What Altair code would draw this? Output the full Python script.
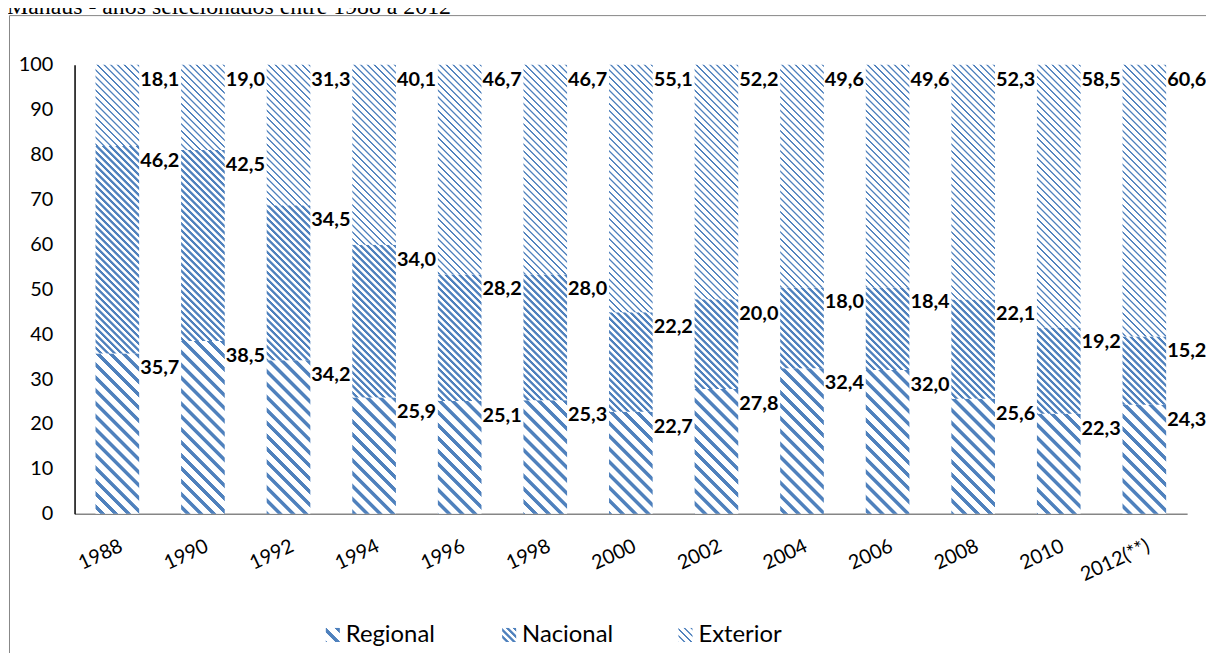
import altair as alt
import numpy as np

# ---------------- data ----------------
TITLE = "Manaus - anos selecionados entre 1988 a 2012"
years = ["1988", "1990", "1992", "1994", "1996", "1998", "2000",
         "2002", "2004", "2006", "2008", "2010", "2012(**)"]
series = ["Regional", "Nacional", "Exterior"]
regional = [35.7, 38.5, 34.2, 25.9, 25.1, 25.3, 22.7, 27.8, 32.4, 32.0, 25.6, 22.3, 24.3]
nacional = [46.2, 42.5, 34.5, 34.0, 28.2, 28.0, 22.2, 20.0, 18.0, 18.4, 22.1, 19.2, 15.2]
exterior = [18.1, 19.0, 31.3, 40.1, 46.7, 46.7, 55.1, 52.2, 49.6, 49.6, 52.3, 58.5, 60.6]
y_ticks = list(range(0, 101, 10))

# ---------------- layout / style ----------------
PLOT_W, PLOT_H = 1120, 452
PAD_INNER, PAD_OUTER = 0.49, 0.245
STEP = PLOT_W / (len(years) - PAD_INNER + 2 * PAD_OUTER)
BAR_W = STEP * (1 - PAD_INNER)
BLUE = "#4F81BD"
# (period, stripe width) of the diagonal hatch, in px
HATCH = {"Regional": (13.0, 5.0), "Nacional": (6.8, 3.3), "Exterior": (6.8, 1.9)}
FONT = "Lato"


def hatch(W, H, period, bw, color=BLUE, bg="#FFFFFF", soft=0.9):
    """Linear gradient that draws '\\' stripes at 45 deg on a W x H box."""
    L = W + H
    k = L / (W * W + H * H)
    stops = []

    def add(s, c):
        o = min(max(s / L, 0.0), 1.0)
        stops.append({"offset": round(o, 5), "color": c})

    add(0, bg)
    n = int(np.ceil(L / period)) + 1
    for i in range(n):
        s0 = i * period
        add(s0, bg)
        add(s0 + soft, color)
        add(s0 + bw, color)
        add(s0 + bw + soft, bg)
    add(L, bg)
    return {"gradient": "linear", "x1": 1.0, "y1": 0.0,
            "x2": round(1 - W * k, 5), "y2": round(H * k, 5), "stops": stops}


def fmt(v):
    return f"{v:.1f}".replace(".", ",")


rows = []
for i, yr in enumerate(years):
    base = 0.0
    for s, vals in zip(series, [regional, nacional, exterior]):
        v = vals[i]
        top = min(base + v, 100.0)
        h = (top - base) / 100.0 * PLOT_H
        p, bw = HATCH[s]
        rows.append({"year": yr, "series": s, "value": v, "y0": base, "y1": top,
                     "label": fmt(v), "grad": hatch(BAR_W, h, p, bw)})
        base = top

legend_rows = [{"series": s, "grad": hatch(14, 14, *HATCH[s])} for s in series]

data = alt.Data(values=rows)
ldata = alt.Data(values=legend_rows)
one = alt.Data(values=[{"t": TITLE}])

x_enc = alt.X("year:N", sort=years,
              scale=alt.Scale(paddingInner=PAD_INNER, paddingOuter=PAD_OUTER),
              axis=alt.Axis(title=None, labelAngle=-25, labelAlign="right",
                            labelBaseline="top", labelFont=FONT, labelFontSize=20,
                            labelColor="#000000", ticks=False, tickSize=0,
                            labelPadding=22, domainColor="#868686", domainWidth=1.5))
y_scale = alt.Scale(domain=[0, 100], nice=False)

bars = alt.Chart(data).mark_bar(strokeWidth=0).encode(
    x=x_enc,
    y=alt.Y("y0:Q", scale=y_scale,
            axis=alt.Axis(title=None, values=y_ticks, grid=False, ticks=False,
                          tickSize=0, labelPadding=22, labelFont=FONT,
                          labelFontSize=20, labelColor="#000000",
                          domainColor="#000000", domainWidth=1.5)),
    y2="y1:Q",
    fill=alt.Fill("grad:N", scale=None),
)

labels = alt.Chart(data).mark_text(
    align="left", baseline="top", dx=BAR_W / 2 + 1, dy=5,
    font=FONT, fontSize=20, fontWeight="bold", color="#000000"
).encode(
    x=alt.X("year:N", sort=years),
    y=alt.Y("y1:Q", scale=y_scale),
    text="label:N",
)

main = alt.layer(bars, labels)

leg_x = alt.X("series:N", sort=series,
              scale=alt.Scale(type="point", range=[260, 615], padding=0), axis=None)
leg_sym = alt.Chart(ldata).mark_square(size=200, strokeWidth=0, opacity=1).encode(
    x=leg_x, y=alt.value(574), fill=alt.Fill("grad:N", scale=None))
leg_txt = alt.Chart(ldata).mark_text(
    align="left", baseline="middle", dx=13, font=FONT, fontSize=24, color="#000000"
).encode(x=leg_x, y=alt.value(574), text="series:N")
legend = alt.layer(leg_sym, leg_txt)

frame = alt.Chart(one).mark_rect(fillOpacity=0, stroke="#868686", strokeWidth=1).encode(
    x=alt.value(-65.5), x2=alt.value(PLOT_W + 100),
    y=alt.value(-49.5), y2=alt.value(PLOT_H + 300))
title = alt.Chart(one).mark_text(
    align="left", baseline="alphabetic", font="Liberation Serif", fontSize=24,
    color="#000000"
).encode(x=alt.value(-68), y=alt.value(-51), text="t:N")

chart = alt.layer(frame, title, main, legend).resolve_scale(x="independent").properties(
    width=PLOT_W, height=PLOT_H,
    autosize=alt.AutoSizeParams(type="none"),
    padding={"left": 67, "top": 55, "right": 19, "bottom": 138},
).configure_view(strokeWidth=0)

chart.save("out.html", embed_options={"renderer": "svg", "actions": False})
